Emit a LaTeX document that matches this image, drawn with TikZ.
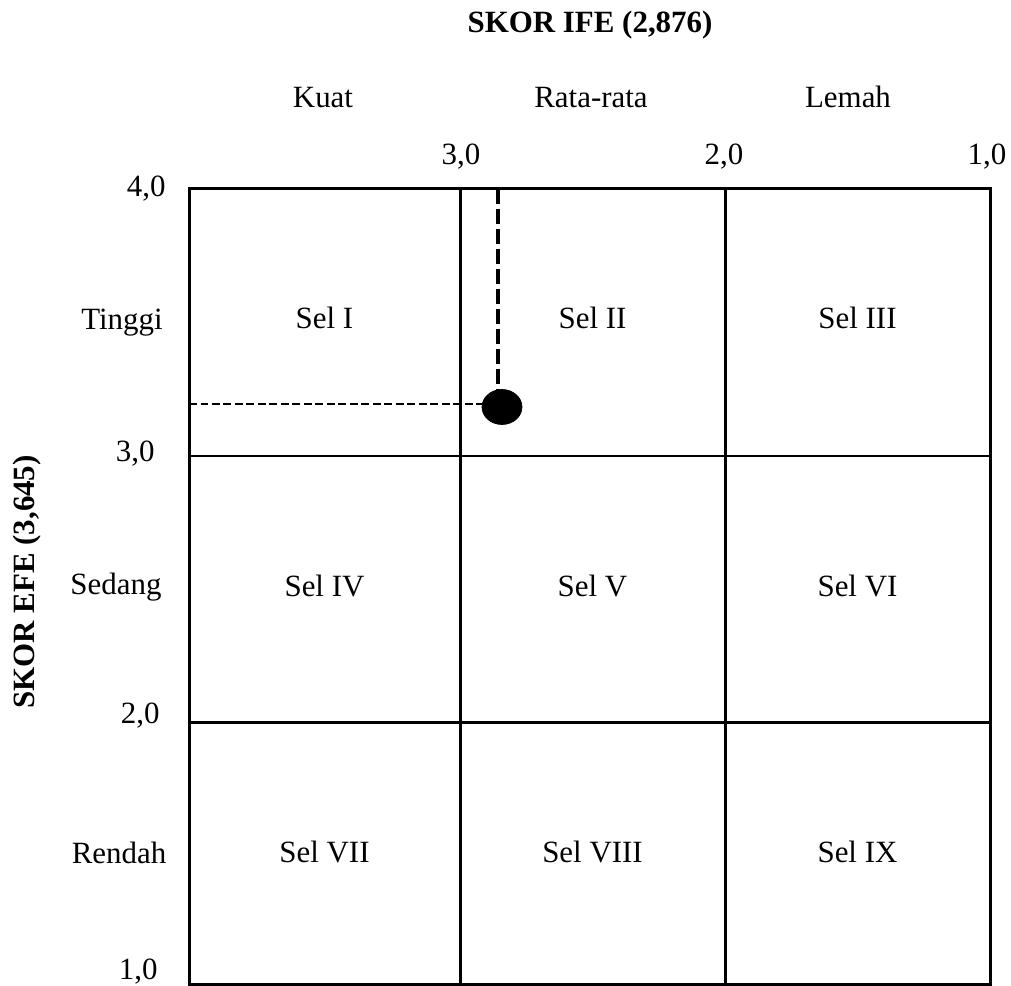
\documentclass[tikz,border=0pt]{standalone}
\usepackage{fontspec}
\setmainfont{Liberation Serif}
\usetikzlibrary{shapes.geometric}

\begin{document}
\begin{tikzpicture}[
  x=0.02cm, y=-0.02cm,
  grid/.style={line width=0.06cm},
  lbl/.style={anchor=base, inner sep=0pt},
  numr/.style={anchor=base east, inner sep=0pt},
  cell/.style={anchor=base, inner sep=0pt},
  axis/.style={font=\fontsize{17.6}{21}\selectfont\bfseries, inner sep=0pt},
  dot/.style={draw, fill, ellipse, minimum width=0.8cm, minimum height=0.7cm, inner sep=0pt},
  vdash/.style={line width=0.085cm, dash pattern=on 0.3cm off 0.1cm},
  hdash/.style={line width=0.054cm, dash pattern=on 0.16cm off 0.07cm},
  every node/.style={font=\fontsize{17.6}{21}\selectfont}]
  \useasboundingbox (0,0) rectangle (1011,986);
  % Axis titles
  \node[axis, anchor=base] (ife) at (590,33) {SKOR IFE (2,876)};
  \node[axis, rotate=90] (efe) at (27,582) {SKOR EFE (3,645)};
  % Column headings and IFE scale
  \node[lbl] (kuat) at (323,108) {Kuat};
  \node[lbl] (rata) at (591,108) {Rata-rata};
  \node[lbl] (lemah) at (848,108) {Lemah};
  \node[lbl] (x3) at (461,165) {3,0};
  \node[lbl] (x2) at (724,165) {2,0};
  \node[lbl] (x1) at (987,165) {1,0};
  % Row headings and EFE scale
  \node[numr] (y4) at (166,197) {4,0};
  \node[numr] (y3) at (155,461) {3,0};
  \node[numr] (y2) at (160,723) {2,0};
  \node[numr] (y1) at (158,979) {1,0};
  \node[lbl] (tinggi) at (122,330) {Tinggi};
  \node[lbl] (sedang) at (116,594) {Sedang};
  \node[lbl] (rendah) at (119,863) {Rendah};
  % Matrix grid
  \draw[grid] (189,189) rectangle (990,984);
  \draw[grid] (460,189) -- (460,984);
  \draw[grid] (725,189) -- (725,984);
  \draw[grid] (189,456) -- (990,456);
  \draw[grid] (189,722) -- (990,722);
  % Cells
  \node[cell] (sel1) at (324.5,329) {Sel I};
  \node[cell] (sel2) at (592.5,329) {Sel II};
  \node[cell] (sel3) at (857.5,329) {Sel III};
  \node[cell] (sel4) at (324.5,596) {Sel IV};
  \node[cell] (sel5) at (592.5,596) {Sel V};
  \node[cell] (sel6) at (857.5,596) {Sel VI};
  \node[cell] (sel7) at (324.5,862) {Sel VII};
  \node[cell] (sel8) at (592.5,862) {Sel VIII};
  \node[cell] (sel9) at (857.5,862) {Sel IX};
  % Position of the company
  \node[dot] (titik) at (502,407) {};
  \coordinate (ifeval) at (498,189);
  \coordinate (efeval) at (189,404);
  \draw[vdash] (ifeval) -- (ifeval |- titik.north);
  \draw[hdash] (efeval) -- (efeval -| titik.west);
\end{tikzpicture}
\end{document}
